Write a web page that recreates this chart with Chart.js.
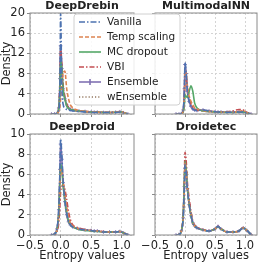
<!DOCTYPE html>
<html>
<head>
<meta charset="utf-8">
<script src="https://cdn.jsdelivr.net/npm/chart.js@4/dist/chart.umd.min.js"></script>
<style>
  html, body { margin: 0; padding: 0; background: #fff; }
  #wrap { position: relative; width: 262px; height: 263px; }
  #wrap canvas { position: absolute; left: 0; top: 0; }
</style>
</head>
<body>
<div id="wrap">
  <canvas id="c4" width="262" height="263"></canvas>
  <canvas id="c3" width="262" height="263"></canvas>
  <canvas id="c2" width="262" height="263"></canvas>
  <canvas id="c1" width="262" height="263"></canvas>
</div>
<script>
// entropy grid (x) shared by every curve
const xs = [-0.15, -0.1, -0.06, -0.03, -0.01, 0, 0.02, 0.04, 0.07, 0.1, 0.13, 0.16, 0.2, 0.3, 0.4, 0.5, 0.55, 0.6, 0.7, 0.8, 0.9, 0.97, 1.03, 1.1];

const xTicks = [-0.5, 0, 0.5, 1.0];
const yTicksTop = [0, 4, 8, 12, 16, 20];
const yTicksBottom = [0, 2, 4, 6, 8, 10];

const methods = ['Vanilla', 'Temp scaling', 'MC dropout', 'VBI', 'Ensemble', 'wEnsemble'];

// DeepDrebin
const drebinVanilla = [0, 0, 0.1, 0.8, 6, 20, 6, 2, 1.2, 0.9, 0.8, 0.7, 0.6, 0.5, 0.4, 0.35, 0.3, 0.3, 0.3, 0.3, 0.3, 0.4, 0.2, 0];
const drebinTemp    = [0, 0, 0.1, 0.5, 1.5, 3, 6, 8, 8.5, 5, 3, 1.8, 1.2, 0.7, 0.5, 0.4, 0.35, 0.35, 0.3, 0.3, 0.35, 0.45, 0.25, 0];
const drebinMC      = [0, 0, 0.1, 1, 5, 10.5, 9, 5, 3, 1.6, 1.1, 0.9, 0.8, 0.6, 0.5, 0.4, 0.35, 0.35, 0.3, 0.3, 0.35, 0.45, 0.25, 0];
const drebinVBI     = [0, 0, 0.2, 1.5, 7, 13, 10, 6, 3.5, 2, 1.3, 1, 0.8, 0.6, 0.5, 0.45, 0.4, 0.4, 0.35, 0.35, 0.4, 0.5, 0.3, 0.02];
const drebinEns     = [0, 0, 0.1, 1.2, 7, 13.5, 9, 5, 3, 1.8, 1.2, 0.9, 0.8, 0.6, 0.5, 0.4, 0.35, 0.35, 0.3, 0.3, 0.35, 0.45, 0.25, 0];
const drebinWEns    = [0, 0, 0.1, 1.2, 6.5, 13, 9, 5, 3, 1.8, 1.2, 0.9, 0.8, 0.6, 0.5, 0.4, 0.35, 0.35, 0.3, 0.3, 0.35, 0.45, 0.25, 0];

// MultimodalNN
const mmVanilla = [0, 0, 0.1, 0.8, 5, 10.2, 8, 4.5, 2.5, 1.5, 1, 0.8, 0.7, 0.8, 0.6, 0.45, 0.4, 0.4, 0.35, 0.35, 0.4, 0.4, 0.2, 0];
const mmTemp    = [0, 0, 0.1, 0.6, 4, 8.5, 8, 5.5, 3.5, 2.5, 1.8, 1.2, 1, 0.7, 0.5, 0.45, 0.4, 0.4, 0.35, 0.35, 0.5, 0.7, 0.3, 0.02];
const mmMC      = [0, 0, 0.05, 0.4, 2, 3.8, 3.5, 3.3, 4.5, 5.6, 4.5, 2.2, 1.2, 0.6, 0.5, 0.4, 0.35, 0.35, 0.3, 0.3, 0.35, 0.4, 0.2, 0];
const mmVBI     = [0, 0, 0.1, 0.5, 3, 6.5, 7, 5.5, 3.5, 2, 1.4, 1, 0.8, 0.6, 0.5, 0.45, 0.4, 0.4, 0.45, 0.6, 0.9, 0.8, 0.3, 0.02];
const mmEns     = [0, 0, 0.1, 0.8, 5, 9.8, 8, 4.5, 2.5, 1.5, 1, 0.8, 0.7, 0.8, 0.6, 0.45, 0.4, 0.4, 0.35, 0.35, 0.4, 0.4, 0.2, 0];
const mmWEns    = [0, 0, 0.1, 0.8, 4.8, 9.5, 8, 4.5, 2.5, 1.5, 1, 0.8, 0.7, 0.8, 0.6, 0.45, 0.4, 0.4, 0.35, 0.35, 0.4, 0.4, 0.2, 0];

// DeepDroid
const droidVanilla = [0, 0.1, 0.6, 2.5, 6.5, 9.5, 8, 5.5, 3.5, 2.2, 1.4, 1, 0.8, 0.6, 0.5, 0.45, 0.4, 0.4, 0.3, 0.3, 0.3, 0.35, 0.2, 0.02];
const droidTemp    = [0, 0.1, 0.5, 2, 5, 6.5, 6.3, 5.5, 4, 2.8, 1.8, 1.2, 0.9, 0.6, 0.5, 0.45, 0.4, 0.4, 0.3, 0.3, 0.3, 0.35, 0.2, 0.02];
const droidMC      = [0, 0.1, 0.5, 2.2, 5.5, 7, 6.5, 5, 3.5, 2.2, 1.4, 1, 0.8, 0.55, 0.45, 0.4, 0.35, 0.35, 0.3, 0.3, 0.3, 0.35, 0.2, 0.02];
const droidVBI     = [0, 0.05, 0.3, 1.2, 3, 4.2, 4.8, 5, 4.5, 3.5, 2.3, 1.5, 1, 0.7, 0.55, 0.45, 0.4, 0.4, 0.35, 0.3, 0.3, 0.35, 0.2, 0.02];
const droidEns     = [0, 0.1, 0.6, 2.5, 6.5, 9, 7.5, 5.2, 3.3, 2, 1.3, 1, 0.8, 0.6, 0.5, 0.45, 0.4, 0.4, 0.3, 0.3, 0.3, 0.35, 0.2, 0.02];
const droidWEns    = [0, 0.1, 0.6, 2.4, 6.2, 8.8, 7.5, 5.2, 3.3, 2, 1.3, 1, 0.8, 0.6, 0.5, 0.45, 0.4, 0.4, 0.3, 0.3, 0.3, 0.35, 0.2, 0.02];

// Droidetec
const detecVanilla = [0, 0.05, 0.4, 1.8, 5, 7, 6.2, 4.5, 3, 2, 1.2, 0.9, 0.7, 0.5, 0.4, 0.6, 0.85, 0.6, 0.3, 0.3, 0.4, 0.7, 0.45, 0.05];
const detecTemp    = [0, 0.05, 0.4, 1.8, 5, 7.2, 6.4, 4.6, 3, 2, 1.2, 0.9, 0.7, 0.5, 0.4, 0.6, 0.85, 0.6, 0.3, 0.3, 0.4, 0.7, 0.45, 0.05];
const detecMC      = [0, 0.05, 0.4, 1.9, 5.5, 7.3, 6.5, 4.6, 3, 1.9, 1.2, 0.9, 0.7, 0.5, 0.4, 0.6, 0.8, 0.6, 0.3, 0.3, 0.4, 0.7, 0.45, 0.05];
const detecVBI     = [0, 0.05, 0.5, 2.2, 6, 8.2, 7.3, 5.2, 3.6, 2.3, 1.4, 1, 0.8, 0.55, 0.45, 0.6, 0.85, 0.6, 0.35, 0.3, 0.4, 0.75, 0.45, 0.05];
const detecEns     = [0, 0.05, 0.4, 1.7, 4.8, 6.6, 6.2, 4.6, 3, 1.9, 1.2, 0.9, 0.7, 0.5, 0.4, 0.6, 0.85, 0.6, 0.3, 0.3, 0.4, 0.7, 0.45, 0.05];
const detecWEns    = [0, 0.05, 0.4, 1.7, 4.8, 6.7, 6.2, 4.6, 3, 1.9, 1.2, 0.9, 0.7, 0.5, 0.4, 0.6, 0.85, 0.6, 0.3, 0.3, 0.4, 0.7, 0.45, 0.05];

// line look per method (seaborn deep palette)
const styles = [
    { color: '#4C72B0', dash: [6, 2, 1.5, 2] },
    { color: '#DD8452', dash: [4, 2] },
    { color: '#55A868', dash: [] },
    { color: '#C44E52', dash: [5, 2, 1.5, 2] },
    { color: '#8172B3', dash: [], marker: true },
    { color: '#937860', dash: [1.2, 2] }
];

const FONT = 'DejaVu Sans';
const TEXT = '#222';

// draws the panel title, the frame and (optionally) the legend
const panelDecor = {
    id: 'panelDecor',
    afterDatasetsDraw(chart, args, opts) {
        const { ctx, chartArea: a } = chart;
        ctx.save();
        ctx.strokeStyle = '#8a8a8a';
        ctx.lineWidth = 1;
        ctx.strokeRect(a.left, a.top, a.right - a.left, a.bottom - a.top);
        ctx.fillStyle = TEXT;
        ctx.font = 'bold 11px "' + FONT + '"';
        ctx.textAlign = 'center';
        ctx.textBaseline = 'middle';
        ctx.fillText(opts.title, (a.left + a.right) / 2, a.top - 6.5);
        ctx.restore();
    },
    afterDraw(chart, args, opts) {
        if (!opts.legend) return;
        const { ctx } = chart;
        const bx = 74, by = 14, bw = 106, bh = 91;
        ctx.save();
        ctx.beginPath();
        ctx.roundRect(bx, by, bw, bh, 3);
        ctx.fillStyle = 'rgba(255,255,255,0.85)';
        ctx.fill();
        ctx.strokeStyle = '#d0d0d0';
        ctx.lineWidth = 1;
        ctx.stroke();
        ctx.font = '10.5px "' + FONT + '"';
        ctx.textBaseline = 'middle';
        methods.forEach((m, i) => {
            const y = by + 8 + i * 15;
            const s = styles[i];
            ctx.strokeStyle = s.color;
            ctx.lineWidth = 1.6;
            ctx.setLineDash(s.dash);
            ctx.beginPath();
            ctx.moveTo(bx + 5, y);
            ctx.lineTo(bx + 27, y);
            ctx.stroke();
            ctx.setLineDash([]);
            if (s.marker) {
                ctx.beginPath();
                ctx.moveTo(bx + 16, y - 3); ctx.lineTo(bx + 16, y + 3);
                ctx.stroke();
            }
            ctx.fillStyle = TEXT;
            ctx.fillText(m, bx + 33, y + 0.5);
        });
        ctx.restore();
    }
};

function makePanel(id, title, series, cfg) {
    const datasets = series.map((ys, i) => ({
        label: methods[i],
        data: xs.map((x, j) => ({ x: x, y: ys[j] })),
        borderColor: styles[i].color,
        backgroundColor: styles[i].color,
        borderDash: styles[i].dash,
        borderWidth: 1.6,
        cubicInterpolationMode: 'monotone',
        pointRadius: styles[i].marker ? 1.8 : 0,
        pointStyle: 'cross',
        pointBorderWidth: 1,
        fill: false
    }));

    new Chart(document.getElementById(id), {
        type: 'line',
        data: { datasets: datasets },
        plugins: [panelDecor],
        options: {
            responsive: false,
            animation: false,
            devicePixelRatio: 1,
            layout: { padding: cfg.padding },
            plugins: {
                legend: { display: false },
                tooltip: { enabled: false },
                panelDecor: { title: title, legend: !!cfg.legend }
            },
            scales: {
                x: {
                    type: 'linear',
                    min: -0.5,
                    max: 1.2,
                    afterBuildTicks: s => { s.ticks = xTicks.map(v => ({ value: v })); },
                    afterFit: s => { s.height = cfg.xHeight; s.paddingLeft = 0; s.paddingRight = 0; },
                    grid: { color: '#d4d4d4', tickColor: '#8a8a8a', tickLength: 3 },
                    border: { display: false, dash: [2, 2] },
                    ticks: {
                        display: cfg.xLabels,
                        maxRotation: 0,
                        padding: 1,
                        color: TEXT,
                        font: { family: FONT, size: 11.5 },
                        callback: v => (v < 0 ? '\u2212' : '') + Math.abs(v).toFixed(1)
                    },
                    title: {
                        display: cfg.xLabels,
                        text: 'Entropy values',
                        color: TEXT,
                        padding: 0,
                        font: { family: FONT, size: 11.5 }
                    }
                },
                y: {
                    min: 0,
                    max: cfg.yTicks[cfg.yTicks.length - 1],
                    afterBuildTicks: s => { s.ticks = cfg.yTicks.map(v => ({ value: v })); },
                    afterFit: s => { s.width = cfg.yWidth; s.paddingTop = 0; s.paddingBottom = 0; },
                    grid: { color: '#d4d4d4', tickColor: '#8a8a8a', tickLength: 3 },
                    border: { display: false, dash: [2, 2] },
                    ticks: {
                        display: cfg.yLabels,
                        padding: 2,
                        color: TEXT,
                        font: { family: FONT, size: 11.5 }
                    },
                    title: {
                        display: cfg.yLabels,
                        text: 'Density',
                        color: TEXT,
                        padding: 0,
                        font: { family: FONT, size: 11.5 }
                    }
                }
            }
        }
    });
}

makePanel('c4', 'Droidetec',
    [detecVanilla, detecTemp, detecMC, detecVBI, detecEns, detecWEns],
    { padding: { left: 151, right: 3, top: 134, bottom: 0 }, yWidth: 4, xHeight: 28,
      yTicks: yTicksBottom, yLabels: false, xLabels: true });

makePanel('c3', 'DeepDroid',
    [droidVanilla, droidTemp, droidMC, droidVBI, droidEns, droidWEns],
    { padding: { left: 0, right: 128, top: 134, bottom: 0 }, yWidth: 30, xHeight: 28,
      yTicks: yTicksBottom, yLabels: true, xLabels: true });

makePanel('c2', 'MultimodalNN',
    [mmVanilla, mmTemp, mmMC, mmVBI, mmEns, mmWEns],
    { padding: { left: 151, right: 3, top: 13, bottom: 146 }, yWidth: 4, xHeight: 3,
      yTicks: yTicksTop, yLabels: false, xLabels: false });

makePanel('c1', 'DeepDrebin',
    [drebinVanilla, drebinTemp, drebinMC, drebinVBI, drebinEns, drebinWEns],
    { padding: { left: 0, right: 128, top: 13, bottom: 146 }, yWidth: 30, xHeight: 3,
      yTicks: yTicksTop, yLabels: true, xLabels: false, legend: true });
</script>
</body>
</html>
